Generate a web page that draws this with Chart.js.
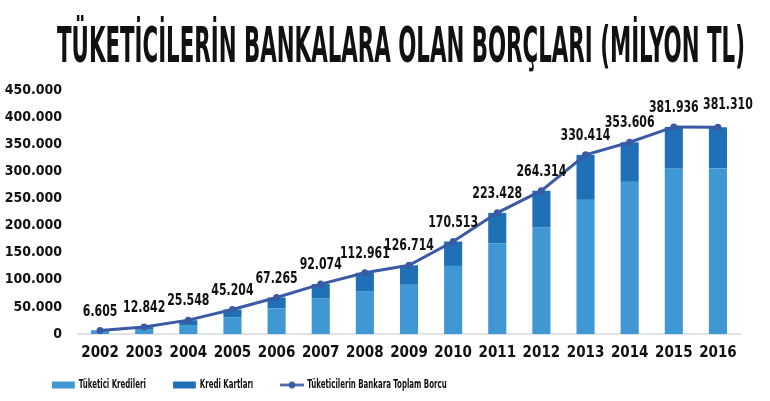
<!DOCTYPE html>
<html>
<head>
<meta charset="utf-8">
<script src="https://cdn.jsdelivr.net/npm/chart.js@4.4.0/dist/chart.umd.min.js"></script>
<style>
  html, body { margin: 0; padding: 0; background: #fff; }
  #wrap { position: relative; width: 770px; height: 401px; }
  #title {
    position: absolute; left: 57px; top: 20px; margin: 0;
    font: bold 50px 'DejaVu Sans Condensed', 'DejaVu Sans', sans-serif;
    line-height: 1; white-space: nowrap; color: #111;
    transform-origin: left top;
  }
</style>
</head>
<body>
<div id="wrap">
  <canvas id="borc" width="770" height="401"></canvas>
  <h1 id="title">TÜKETİCİLERİN BANKALARA OLAN BORÇLARI (MİLYON TL)</h1>
</div>
<script>
let YEARS = ['2002', '2003', '2004', '2005', '2006', '2007', '2008', '2009',
    '2010', '2011', '2012', '2013', '2014', '2015', '2016'];

// Tüketici Kredileri
let LOANS = [4100, 7800, 16500, 30200, 47300, 66100, 78000, 90700,
    125500, 167400, 196300, 247400, 280600, 304900, 305300];

// Kredi Kartları
let CARDS = [2500, 5000, 9000, 15000, 20000, 26000, 35000, 36000,
    45000, 56000, 68000, 83000, 73000, 77000, 76000];

// Tüketicilerin Bankara Toplam Borcu (labels on the chart)
let TOTALS = [6605, 12842, 25548, 45204, 67265, 92074, 112961, 126714,
    170513, 223428, 264314, 330414, 353606, 381936, 381310];

let Y_TICKS = ['0', '50.000', '100.000', '150.000', '200.000', '250.000',
    '300.000', '350.000', '400.000', '450.000'];

const FONT = "'DejaVu Sans Condensed', 'DejaVu Sans', sans-serif";
const LIGHT = '#3f97d3';
const DARK = '#1f70b6';
const LINE = '#3b5aa4';
const SQUEEZE = 0.65;   // horizontal squeeze for the condensed legend

// squeeze the title into the reference width
const title = document.getElementById('title');
title.style.transform = 'scaleX(' + (688 / title.scrollWidth) + ')';

function fmt(v) {
    return String(v).replace(/\B(?=(\d{3})+(?!\d))/g, '.');
}

// legend glyph for the line series: a line with a dot (pre-stretched)
const lineGlyph = document.createElement('canvas');
lineGlyph.width = 38;
lineGlyph.height = 9;
(function () {
    const g = lineGlyph.getContext('2d');
    g.strokeStyle = LINE;
    g.lineWidth = 2.5;
    g.beginPath();
    g.moveTo(0, 4.5);
    g.lineTo(38, 4.5);
    g.stroke();
    g.fillStyle = LINE;
    g.beginPath();
    g.ellipse(19, 4.5, 3.5 / SQUEEZE, 3.5, 0, 0, Math.PI * 2);
    g.fill();
})();

const valueLabels = {
    id: 'valueLabels',
    afterDatasetsDraw(chart) {
        const meta = chart.getDatasetMeta(2);
        const ctx = chart.ctx;
        const last = meta.data.length - 1;
        ctx.save();
        ctx.font = 'bold 16px ' + FONT;
        ctx.fillStyle = '#111';
        ctx.textAlign = 'center';
        ctx.textBaseline = 'bottom';
        meta.data.forEach((pt, i) => {
            ctx.save();
            // last label sits a bit to the right so it clears 2015
            ctx.translate(pt.x + (i === last ? 10 : 0), pt.y - (i === last ? 14 : 11));
            ctx.scale(0.76, 1);
            ctx.fillText(fmt(TOTALS[i]), 0, 0);
            ctx.restore();
        });
        ctx.restore();
    }
};

// draw the legend squeezed horizontally, starting under the axis labels
const squeezeLegend = {
    id: 'squeezeLegend',
    afterInit(chart) {
        const lg = chart.legend;
        lg.draw = function () {
            if (!lg.options.display) return;
            const c = chart.ctx;
            const pad = lg.options.labels.padding;
            const first = lg.left + pad;
            c.save();
            c.translate(52 - SQUEEZE * first, 385 - (lg.top + pad + 6));
            c.scale(SQUEEZE, 1);
            lg._draw();
            c.restore();
        };
    }
};

const ctx = document.getElementById('borc');

new Chart(ctx, {
    data: {
        labels: YEARS,
        datasets: [{
            type: 'bar',
            label: 'Tüketici Kredileri',
            data: LOANS,
            backgroundColor: LIGHT,
            stack: 'borc',
            order: 1,
            categoryPercentage: 0.82,
            barPercentage: 0.5
        }, {
            type: 'bar',
            label: 'Kredi Kartları',
            data: CARDS,
            backgroundColor: DARK,
            stack: 'borc',
            order: 1,
            categoryPercentage: 0.82,
            barPercentage: 0.5
        }, {
            type: 'line',
            label: 'Tüketicilerin Bankara Toplam Borcu',
            data: TOTALS,
            stack: 'toplam',
            order: 0,
            borderColor: LINE,
            backgroundColor: LINE,
            borderWidth: 3,
            pointRadius: 3.5,
            pointBackgroundColor: LINE,
            pointBorderWidth: 0,
            tension: 0
        }]
    },
    options: {
        responsive: false,
        animation: false,
        layout: {
            padding: { top: 90, left: 4, right: 30, bottom: 7 }
        },
        plugins: {
            tooltip: { enabled: false },
            title: { display: false },
            legend: {
                position: 'bottom',
                align: 'start',
                maxHeight: 30,
                labels: {
                    usePointStyle: true,
                    pointStyleWidth: 35,
                    boxHeight: 7,
                    padding: 42,
                    color: '#111',
                    font: { family: FONT, size: 12, weight: 'bold' },
                    sort: (a, b) => a.datasetIndex - b.datasetIndex,
                    generateLabels(chart) {
                        const items = Chart.defaults.plugins.legend.labels.generateLabels(chart);
                        items.forEach(it => {
                            if (it.datasetIndex === 2) {
                                it.pointStyle = lineGlyph;
                            } else {
                                it.pointStyle = 'rect';
                                it.lineWidth = 0;
                            }
                        });
                        return items;
                    }
                }
            }
        },
        scales: {
            x: {
                stacked: true,
                grid: { display: false },
                border: { display: true, color: '#dfe3e8', width: 2 },
                ticks: {
                    color: '#111',
                    padding: 2,
                    autoSkip: false,
                    maxRotation: 0,
                    font: { family: FONT, size: 15, weight: 'bold' }
                }
            },
            y: {
                stacked: true,
                min: 0,
                max: 450000,
                grid: { display: false },
                border: { display: false },
                afterFit(axis) { axis.width = 74; },
                ticks: {
                    stepSize: 50000,
                    autoSkip: false,
                    padding: 8,
                    color: '#111',
                    font: { family: FONT, size: 14, weight: 'bold' },
                    callback: (v) => Y_TICKS[Math.round(v / 50000)]
                }
            }
        }
    },
    plugins: [valueLabels, squeezeLegend]
});
</script>
</body>
</html>
